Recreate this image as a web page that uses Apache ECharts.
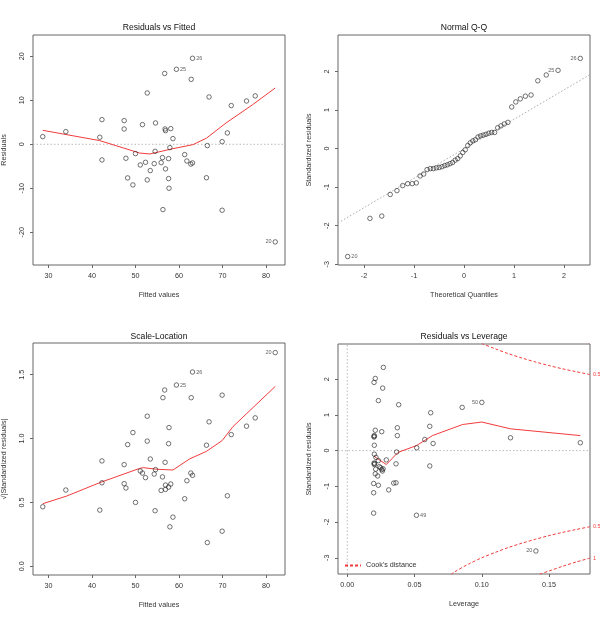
<!DOCTYPE html>
<html>
<head>
<meta charset="utf-8">
<script src="https://cdn.jsdelivr.net/npm/echarts@6/dist/echarts.min.js"></script>
<style>html,body{margin:0;padding:0;background:#fff}#c{width:600px;height:619px}</style>
</head>
<body>
<div id="c"></div>
<script>
// ---------- Panel 1 & 3: fitted values (shared x) ----------
const fitted = [28.7,34.0,41.8,42.3,42.3,47.4,47.4,47.8,48.2,49.4,50.0,51.1,51.6,52.3,52.7,52.7,53.4,54.3,54.5,54.6,56.2,55.9,56.3,56.7,56.8,56.9,56.9,57.6,57.6,57.7,57.9,58.1,58.6,59.4,61.3,61.8,62.7,63.1,62.8,63.1,66.3,66.5,66.9,69.9,69.9,71.1,72.0,75.5,77.5,82.1];
const residuals = [1.74,2.88,1.59,5.6,-3.56,5.38,3.48,-3.18,-7.65,-9.24,-2.12,-4.7,4.47,-4.1,11.67,-8.1,-5.98,-4.4,-1.6,4.85,-3.03,-4.17,-14.85,16.1,3.48,3.1,-5.6,-3.26,-7.8,-10.0,-0.76,3.56,1.29,17.05,-2.35,-3.8,-4.5,-4.24,14.77,19.55,-7.6,-0.3,10.76,0.6,-15.0,2.58,8.8,9.85,11.0,-22.2];
const resLabels = {33:'25',39:'26',49:'20'};
const smooth1X = [28.7,41.8,51.0,53.3,58.6,63.2,66.3,70.8,76.9,82.1];
const smooth1Y = [3.18,0.83,-2.0,-2.2,-1.0,-0.08,1.4,4.85,9.0,12.8];

// ---------- Panel 2: Normal Q-Q ----------
const theoQ = [-2.326,-1.881,-1.645,-1.476,-1.341,-1.227,-1.126,-1.036,-0.954,-0.878,-0.806,-0.739,-0.674,-0.613,-0.553,-0.496,-0.440,-0.385,-0.332,-0.279,-0.228,-0.176,-0.126,-0.075,-0.025,0.025,0.075,0.126,0.176,0.228,0.279,0.332,0.385,0.440,0.496,0.553,0.613,0.674,0.739,0.806,0.878,0.954,1.036,1.126,1.227,1.341,1.476,1.645,1.881,2.326];
const stdResSorted = [-2.80,-1.81,-1.75,-1.19,-1.09,-0.96,-0.91,-0.91,-0.89,-0.71,-0.66,-0.545,-0.52,-0.52,-0.50,-0.49,-0.47,-0.44,-0.42,-0.39,-0.36,-0.30,-0.26,-0.19,-0.10,-0.03,0.08,0.15,0.20,0.23,0.30,0.33,0.35,0.37,0.40,0.42,0.42,0.54,0.59,0.64,0.68,1.08,1.21,1.29,1.36,1.39,1.76,1.91,2.03,2.34];
const qqLabels = {0:'20',48:'25',49:'26'};
const qqLineX = [-2.52, 2.52];
const qqLineY = [-1.93, 1.92];

// ---------- Panel 3: Scale-Location ----------
const sqrtAbsStd = [0.466,0.597,0.44,0.825,0.654,0.796,0.647,0.613,0.953,1.047,0.5,0.746,0.73,0.694,1.175,0.98,0.84,0.722,0.435,0.757,0.594,0.70,1.32,1.38,0.814,0.636,0.602,0.62,0.96,1.086,0.309,0.644,0.385,1.419,0.529,0.67,0.73,0.712,1.32,1.521,0.948,0.186,1.131,1.34,0.275,0.552,1.031,1.097,1.162,1.673];
const fitted3 = [28.7,34.0,41.8,42.3,42.3,47.4,47.4,47.8,48.2,49.4,50.0,51.1,51.6,52.3,52.7,52.7,53.4,54.3,54.5,54.6,55.9,56.2,56.3,56.7,56.8,56.9,56.9,57.6,57.6,57.7,57.9,58.1,58.6,59.4,61.3,61.8,62.7,63.1,62.8,63.1,66.3,66.5,66.9,69.9,69.9,71.1,72.0,75.5,77.5,82.1];
const slLabels = {33:'25',39:'26',49:'20'};
const smooth3X = [28.7,34.2,41.8,51.0,51.8,54.8,58.6,62.4,66.3,69.9,72.4,82.1];
const smooth3Y = [0.49,0.55,0.655,0.767,0.772,0.76,0.754,0.84,0.90,0.984,1.094,1.408];

// ---------- Panel 4: Residuals vs Leverage ----------
const leverage = [0.0199,0.0208,0.0268,0.0263,0.0231,0.0382,0.0208,0.0256,0.0201,0.0199,0.0372,0.0372,0.0201,0.0201,0.0213,0.0231,0.029,0.0367,0.0199,0.0201,0.0211,0.0238,0.0248,0.0256,0.0261,0.0266,0.0208,0.0226,0.0362,0.0196,0.0231,0.0345,0.0362,0.0308,0.0196,0.0196,0.0514,0.0516,0.0576,0.0613,0.062,0.0613,0.0638,0.0854,0.100,0.1213,0.1732,0.1402,0.0199,0.0203];
const stdRes = [1.91,2.02,2.33,1.75,1.40,1.285,0.57,0.53,0.42,0.38,0.64,0.42,0.15,-0.10,-0.19,-0.28,-0.26,-0.04,-0.35,-0.39,-0.52,-0.45,-0.48,-0.53,-0.57,-0.51,-0.65,-0.71,-0.37,-0.92,-0.97,-0.91,-0.90,-1.10,-1.18,-1.75,-1.81,0.08,0.31,0.68,1.06,-0.43,0.20,1.21,1.35,0.36,0.22,-2.81,0.40,-0.36];
const levLabels = {36:'49',44:'50',47:'20'};
const smooth4X = [0.0199,0.029,0.0377,0.0514,0.0633,0.0856,0.100,0.1213,0.1732];
const smooth4Y = [-0.16,-0.39,-0.05,0.14,0.42,0.73,0.80,0.61,0.42];
const cookX05 = [0.077,0.08,0.09,0.10,0.11,0.12,0.13,0.14,0.15,0.16,0.17,0.1804];
const cookUp05 = [3.47,3.39,3.18,3.00,2.85,2.71,2.59,2.48,2.38,2.29,2.21,2.13];
const cookLo05 = [-3.47,-3.39,-3.18,-3.00,-2.85,-2.71,-2.59,-2.48,-2.38,-2.29,-2.21,-2.13];
const cookX1 = [0.143,0.15,0.16,0.17,0.1804];
const cookUp1 = [3.46,3.37,3.24,3.12,3.01];
const cookLo1 = [-3.46,-3.37,-3.24,-3.12,-3.01];

// tick values
const xTicks13 = [30,40,50,60,70,80];
const yTicks1 = [-20,-10,0,10,20];
const xTicks2 = [-2,-1,0,1,2];
const yTicks2 = [-3,-2,-1,0,1,2];
const yTicks3 = [0,0.5,1,1.5];
const xTicks4 = [0,0.05,0.1,0.15];
const yTicks4 = [-3,-2,-1,0,1,2];

// ---------- build ----------
const FONT = '"Liberation Sans", Arial, sans-serif';
const RED = '#f23c3c';
const BOX = '#666';
const TXT = '#333';
const zip = (a,b) => a.map((v,i)=>[v,b[i]]);

const grids = [
  {left:33, top:35, width:252, height:230},
  {left:338, top:35, width:252, height:230},
  {left:33, top:343, width:252, height:232},
  {left:338, top:344, width:252, height:230}
].map(g => Object.assign(g, {show:true, borderColor:BOX, borderWidth:1, backgroundColor:'transparent'}));

function xAx(i, min, max, ticks, name, fmt) {
  return {type:'value', gridIndex:i, min, max, name, nameLocation:'middle', nameGap:27,
    nameTextStyle:{fontSize:7.2, color:TXT, fontFamily:FONT},
    axisLine:{show:false, onZero:false}, splitLine:{show:false},
    axisTick:{show:true, customValues:ticks, length:3, lineStyle:{color:BOX}},
    axisLabel:{show:true, customValues:ticks, margin:8, fontSize:7.2, color:TXT, fontFamily:FONT, formatter: fmt || (v=>String(v))}};
}
function yAx(i, min, max, ticks, name, fmt) {
  return {type:'value', gridIndex:i, min, max, name, nameLocation:'middle', nameGap:25,
    nameTextStyle:{fontSize:7.2, color:TXT, fontFamily:FONT},
    axisLine:{show:false, onZero:false}, splitLine:{show:false},
    axisTick:{show:true, customValues:ticks, length:3, lineStyle:{color:BOX}},
    axisLabel:{show:true, customValues:ticks, rotate:90, margin:7, fontSize:7.2, color:TXT, fontFamily:FONT, formatter: fmt || (v=>String(v))}};
}

function pts(xs, ys, labels) {
  return xs.map((x,i)=>{
    const d = {value:[x, ys[i]]};
    if (labels[i]) {
      const lbl = labels[i];
      d.label = {show:true, formatter:lbl.text, position:lbl.pos, distance:1, fontSize:5.5, color:TXT, fontFamily:FONT};
    }
    return d;
  });
}
function lab(map, posMap) {
  const o = {};
  Object.keys(map).forEach(k => o[k] = {text:map[k], pos:posMap[k]});
  return o;
}
function scatter(i, data) {
  return {type:'scatter', xAxisIndex:i, yAxisIndex:i, data, symbol:'circle', symbolSize:4.5,
    itemStyle:{color:'rgba(0,0,0,0)', borderColor:'#222', borderWidth:0.8}, silent:true, z:3};
}
function line(i, data, opts) {
  return Object.assign({type:'line', xAxisIndex:i, yAxisIndex:i, data, symbol:'none', silent:true,
    lineStyle:{color:RED, width:1}, clip:true, z:2}, opts || {});
}
function dotted(i, data, color) {
  return {type:'line', xAxisIndex:i, yAxisIndex:i, data, symbol:'none', silent:true,
    lineStyle:{color:color || '#bbb', width:1, type:[1.5,2]}, clip:true, z:1};
}

const titleStyle = {fontSize:8.6, fontWeight:'normal', color:'#111', fontFamily:FONT};
const titles = [
  {text:'Residuals vs Fitted', left:159, top:23},
  {text:'Normal Q-Q', left:464, top:23},
  {text:'Scale-Location', left:159, top:332},
  {text:'Residuals vs Leverage', left:464, top:332}
].map(t => Object.assign(t, {textAlign:'center', padding:0, textStyle:titleStyle}));

const cookEnd = (txt) => ({show:true, formatter:txt, color:RED, fontSize:5.5, fontFamily:FONT, distance:3});

const option = {
  animation:false,
  backgroundColor:'#fff',
  title: titles,
  grid: grids,
  xAxis: [
    xAx(0, 26.46, 84.34, xTicks13, 'Fitted values'),
    xAx(1, -2.52, 2.52, xTicks2, 'Theoretical Quantiles'),
    xAx(2, 26.46, 84.34, xTicks13, 'Fitted values'),
    xAx(3, -0.0069, 0.1804, xTicks4, 'Leverage', v=>v.toFixed(2))
  ],
  yAxis: [
    yAx(0, -27.45, 24.85, yTicks1, 'Residuals'),
    yAx(1, -3.02, 2.947, yTicks2, 'Standardized residuals'),
    yAx(2, -0.068, 1.748, yTicks3, '√|Standardized residuals|', v=>v.toFixed(1)),
    yAx(3, -3.455, 2.985, yTicks4, 'Standardized residuals')
  ],
  legend: {
    show:true, left:344, top:562, itemWidth:16, itemHeight:8, itemGap:4, padding:0,
    textStyle:{fontSize:7.2, color:TXT, fontFamily:FONT},
    itemStyle:{color:'rgba(0,0,0,0)', borderWidth:0, opacity:0},
    data:["Cook's distance"]
  },
  series: [
    // panel 1
    dotted(0, [[26.46,0],[84.34,0]]),
    line(0, zip(smooth1X, smooth1Y)),
    scatter(0, pts(fitted, residuals, lab(resLabels, {33:'right',39:'right',49:'left'}))),
    // panel 2
    dotted(1, zip(qqLineX, qqLineY), '#aaa'),
    scatter(1, pts(theoQ, stdResSorted, lab(qqLabels, {0:'right',48:'left',49:'left'}))),
    // panel 3
    line(2, zip(smooth3X, smooth3Y)),
    scatter(2, pts(fitted3, sqrtAbsStd, lab(slLabels, {33:'right',39:'right',49:'left'}))),
    // panel 4
    dotted(3, [[-0.0069,0],[0.1804,0]]),
    dotted(3, [[0,-3.455],[0,2.985]]),
    line(3, zip(smooth4X, smooth4Y)),
    line(3, zip(cookX05, cookUp05), {name:"Cook's distance", smooth:0.3, lineStyle:{color:RED, width:1, type:[3,2]}, itemStyle:{color:RED}, endLabel:cookEnd('0.5')}),
    line(3, zip(cookX05, cookLo05), {smooth:0.3, lineStyle:{color:RED, width:1, type:[3,2]}, endLabel:cookEnd('0.5')}),
    line(3, zip(cookX1, cookUp1), {smooth:0.3, lineStyle:{color:RED, width:1, type:[3,2]}}),
    line(3, zip(cookX1, cookLo1), {smooth:0.3, lineStyle:{color:RED, width:1, type:[3,2]}, endLabel:cookEnd('1')}),
    scatter(3, pts(leverage, stdRes, lab(levLabels, {36:'right',44:'left',47:'left'})))
  ]
};
const chart = echarts.init(document.getElementById('c'), null, {renderer:'canvas'});
chart.setOption(option);
</script>
</body>
</html>
